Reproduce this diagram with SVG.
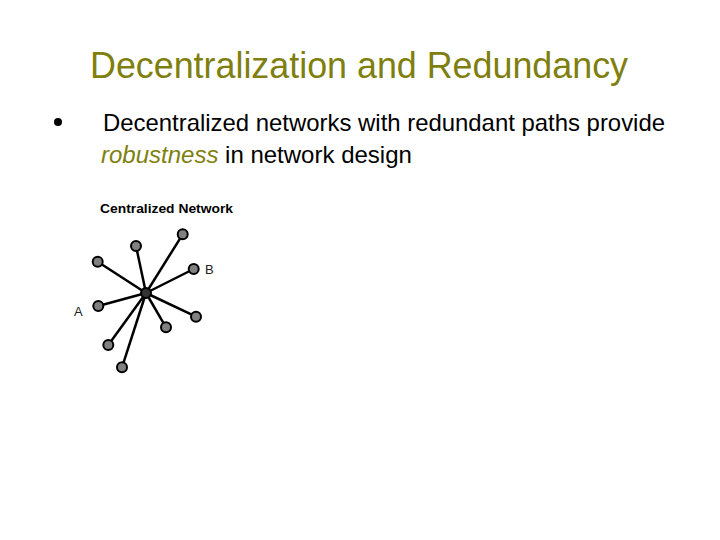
<svg xmlns="http://www.w3.org/2000/svg" width="720" height="540" viewBox="0 0 720 540">
<style>
.title{font-family:"Liberation Sans",Arial,sans-serif;font-size:36px;fill:#7f7f10}
.body{font-family:"Liberation Sans",Arial,sans-serif;font-size:24px;fill:#000}
.em{fill:#7f7f10;font-style:italic}
.cap{font-family:"Liberation Sans",Arial,sans-serif;font-size:13.5px;font-weight:bold;fill:#000}
.lbl{font-family:"Liberation Sans",Arial,sans-serif;font-size:13px;fill:#222}
.node{fill:#808080;stroke:#000;stroke-width:2}
.edge{stroke:#000;stroke-width:2.5;fill:none}
</style>
<rect width="720" height="540" fill="#fff"/>
<text class="title" x="90" y="78" textLength="538" lengthAdjust="spacingAndGlyphs">Decentralization and Redundancy</text>
<circle cx="58" cy="122" r="4" fill="#000"/>
<text class="body" x="103" y="131" textLength="562" lengthAdjust="spacingAndGlyphs">Decentralized networks with redundant paths provide</text>
<text class="body" x="101" y="163"><tspan class="em">robustness</tspan> in network design</text>
<text class="cap" x="100" y="213" textLength="133" lengthAdjust="spacingAndGlyphs">Centralized Network</text>
<g id="connectors">
<line class="edge" x1="146" y1="293" x2="182.7" y2="234.3"/>
<line class="edge" x1="146" y1="293" x2="136" y2="246"/>
<line class="edge" x1="146" y1="293" x2="97.7" y2="261.7"/>
<line class="edge" x1="146" y1="293" x2="193.7" y2="269"/>
<line class="edge" x1="146" y1="293" x2="98.3" y2="306"/>
<line class="edge" x1="146" y1="293" x2="196" y2="316.7"/>
<line class="edge" x1="146" y1="293" x2="166" y2="327.3"/>
<line class="edge" x1="146" y1="293" x2="108.3" y2="345"/>
<line class="edge" x1="146" y1="293" x2="122" y2="367.3"/>
</g>
<g id="hub"><circle cx="146" cy="293" r="5" fill="#333" stroke="#000" stroke-width="2"/></g>
<g id="n1"><circle class="node" cx="182.7" cy="234.3" r="5"/></g>
<g id="n2"><circle class="node" cx="136" cy="246" r="5"/></g>
<g id="n3"><circle class="node" cx="97.7" cy="261.7" r="5"/></g>
<g id="nB"><circle class="node" cx="193.7" cy="269" r="5"/><text class="lbl" x="205" y="274">B</text></g>
<g id="nA"><circle class="node" cx="98.3" cy="306" r="5"/><text class="lbl" x="74" y="316">A</text></g>
<g id="n6"><circle class="node" cx="196" cy="316.7" r="5"/></g>
<g id="n7"><circle class="node" cx="166" cy="327.3" r="5"/></g>
<g id="n8"><circle class="node" cx="108.3" cy="345" r="5"/></g>
<g id="n9"><circle class="node" cx="122" cy="367.3" r="5"/></g>
</svg>
